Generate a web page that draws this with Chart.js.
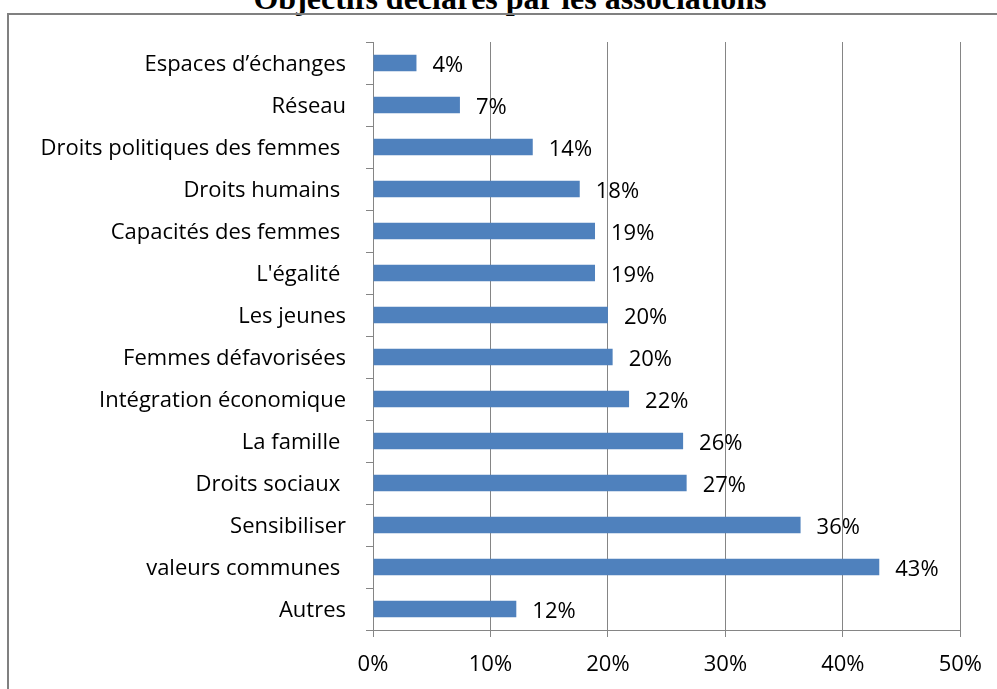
<!DOCTYPE html>
<html>
<head>
<meta charset="utf-8">
<script src="https://cdn.jsdelivr.net/npm/chart.js@4/dist/chart.umd.min.js"></script>
<style>
  html, body { margin: 0; padding: 0; background: #fff; overflow: hidden; }
  #wrap { position: relative; width: 997px; height: 689px; }
  #frame { position: absolute; left: 7px; top: 13px; width: 1100px; height: 800px; border: 2px solid #808080; }
  #title { position: absolute; left: 0; width: 1020px; top: -18px; text-align: center;
           font: bold 32px "Liberation Serif", serif; line-height: 32px; color: #000; white-space: nowrap; }
  canvas { position: absolute; left: 0; top: 0; }
</style>
</head>
<body>
<div id="wrap">
  <div id="title">Objectifs déclarés par les associations</div>
  <div id="frame"></div>
  <canvas id="chart" width="997" height="689"></canvas>
</div>
<script>
// categories (top to bottom), trailing spaces are in the original labels
const categories = [
  'Espaces d\u2019échanges', 'Réseau', 'Droits politiques des femmes ', 'Droits humains ',
  'Capacités des femmes ', 'L\'égalité ', 'Les jeunes', 'Femmes défavorisées',
  'Intégration économique', 'La famille ', 'Droits sociaux ', 'Sensibiliser',
  'valeurs communes ', 'Autres'
]
const shares = [3.7, 7.4, 13.6, 17.6, 18.9, 18.9, 20.0, 20.4, 21.8, 26.4, 26.7, 36.4, 43.1, 12.2]
const shareLabels = ['4%', '7%', '14%', '18%', '19%', '19%', '20%', '20%', '22%', '26%', '27%', '36%', '43%', '12%']
const xTicks = [0, 10, 20, 30, 40, 50]

const font = { family: '"Open Sans", sans-serif', size: 22 }
const gridColor = '#858585'

// bar end labels
const barLabels = {
  id: 'barLabels',
  afterDatasetsDraw(chart) {
    const ctx = chart.ctx
    const meta = chart.getDatasetMeta(0)
    ctx.save()
    ctx.font = `${font.size}px ${font.family}`
    ctx.fillStyle = '#000'
    ctx.textAlign = 'left'
    ctx.textBaseline = 'middle'
    meta.data.forEach((bar, i) => {
      ctx.fillText(shareLabels[i], bar.x + 16, bar.y + 3)
    })
    ctx.restore()
  }
}

new Chart(document.getElementById('chart'), {
  type: 'bar',
  data: {
    labels: categories,
    datasets: [{
      data: shares,
      backgroundColor: '#4f81bd',
      borderWidth: 0,
      categoryPercentage: 1,
      barPercentage: 0.39
    }]
  },
  options: {
    indexAxis: 'y',
    responsive: false,
    animation: false,
    layout: { padding: { top: 42, right: 36, left: 0, bottom: 0 } },
    plugins: { legend: { display: false }, tooltip: { enabled: false }, title: { display: false } },
    scales: {
      x: {
        min: 0, max: 50,
        afterFit(scale) { scale.height = 59 },
        afterBuildTicks(scale) { scale.ticks = xTicks.map(v => ({ value: v })) },
        grid: { color: gridColor, lineWidth: 1, tickLength: 7, drawTicks: true },
        border: { color: gridColor, width: 1 },
        ticks: { font, color: '#000', padding: 15, maxRotation: 0, callback: v => v + '%' }
      },
      y: {
        afterFit(scale) { scale.width = 373 },
        grid: { drawOnChartArea: false, color: gridColor, tickLength: 7, offset: true },
        border: { color: gridColor, width: 1 },
        ticks: { font, color: '#000', padding: 20, labelOffset: 2, autoSkip: false }
      }
    }
  },
  plugins: [barLabels]
})
</script>
</body>
</html>
